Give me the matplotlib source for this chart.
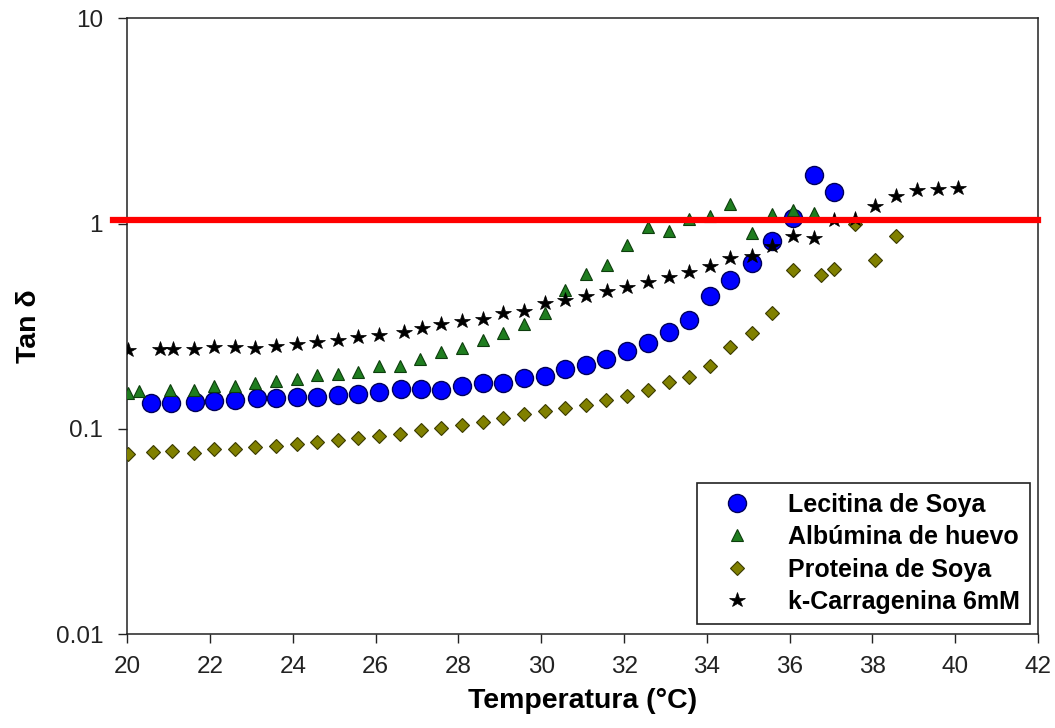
import matplotlib
matplotlib.use("Agg")
import matplotlib.pyplot as plt
import numpy as np

plt.rcParams['font.family'] = ['Liberation Sans', 'DejaVu Sans']

# datos
temp_lecitina = [20.56, 21.06, 21.64, 22.09, 22.6, 23.14, 23.59, 24.09, 24.58, 25.08,
                 25.58, 26.08, 26.6, 27.1, 27.58, 28.08, 28.58, 29.08, 29.58, 30.08,
                 30.57, 31.07, 31.57, 32.06, 32.58, 33.08, 33.57, 34.07, 34.57, 35.08,
                 35.57, 36.07, 36.6, 37.08]
tan_lecitina = [0.134, 0.134, 0.136, 0.137, 0.138, 0.142, 0.141, 0.143, 0.143, 0.147,
                0.148, 0.152, 0.156, 0.156, 0.155, 0.161, 0.167, 0.168, 0.177, 0.181,
                0.196, 0.205, 0.219, 0.240, 0.262, 0.298, 0.340, 0.446, 0.531, 0.640,
                0.820, 1.06, 1.73, 1.43]

temp_albumina = [20.01, 20.28, 21.03, 21.6, 22.09, 22.59, 23.09, 23.59, 24.09, 24.58,
                 25.08, 25.58, 26.08, 26.58, 27.08, 27.58, 28.08, 28.58, 29.08, 29.58,
                 30.08, 30.57, 31.08, 31.58, 32.08, 32.58, 33.08, 33.57, 34.07, 34.57,
                 35.08, 35.58, 36.08, 36.58]
tan_albumina = [0.150, 0.153, 0.154, 0.154, 0.161, 0.161, 0.167, 0.171, 0.175, 0.183,
                0.186, 0.190, 0.203, 0.203, 0.219, 0.236, 0.247, 0.272, 0.293, 0.324,
                0.369, 0.475, 0.568, 0.631, 0.787, 0.959, 0.924, 1.05, 1.09, 1.25,
                0.901, 1.12, 1.17, 1.13]

temp_proteina = [20.01, 20.62, 21.08, 21.6, 22.09, 22.59, 23.09, 23.59, 24.09, 24.58,
                 25.08, 25.58, 26.08, 26.58, 27.09, 27.58, 28.08, 28.58, 29.07, 29.58,
                 30.08, 30.57, 31.07, 31.57, 32.06, 32.58, 33.08, 33.57, 34.07, 34.57,
                 35.08, 35.57, 36.08, 36.76, 37.08, 37.58, 38.07, 38.57]
tan_proteina = [0.0759, 0.0775, 0.0781, 0.0766, 0.0796, 0.0796, 0.0817, 0.0826, 0.0848, 0.0864,
                0.0881, 0.0908, 0.0925, 0.0949, 0.0986, 0.1015, 0.1046, 0.1086, 0.1136, 0.118,
                0.1225, 0.127, 0.1305, 0.138, 0.145, 0.154, 0.170, 0.179, 0.203, 0.252,
                0.292, 0.369, 0.594, 0.564, 0.601, 1.00, 0.665, 0.874]

temp_carragenina = [20.01, 20.78, 21.1, 21.6, 22.09, 22.6, 23.09, 23.59, 24.09, 24.59,
                    25.09, 25.58, 26.08, 26.68, 27.11, 27.58, 28.08, 28.58, 29.08, 29.58,
                    30.08, 30.57, 31.07, 31.58, 32.08, 32.58, 33.08, 33.57, 34.07, 34.57,
                    35.08, 35.57, 36.08, 36.58, 37.08, 37.58, 38.07, 38.57, 39.08, 39.58,
                    40.07]
tan_carragenina = [0.243, 0.245, 0.245, 0.245, 0.252, 0.252, 0.249, 0.254, 0.259, 0.264,
                   0.272, 0.279, 0.287, 0.297, 0.309, 0.324, 0.334, 0.345, 0.369, 0.376,
                   0.409, 0.425, 0.442, 0.471, 0.493, 0.517, 0.551, 0.583, 0.619, 0.677,
                   0.698, 0.775, 0.871, 0.852, 1.04, 1.05, 1.22, 1.37, 1.45, 1.47,
                   1.49]

linea_ref = 1.04            # linea roja
linea_x = [19.65, 42]

y_ticks = [0.01, 0.1, 1, 10]
y_labels = ['0.01', '0.1', '1', '10']

fig = plt.figure(figsize=(10.55, 7.28), dpi=100)
ax = fig.add_axes([0.1207, 0.1287, 0.8632, 0.8462])

ax.plot(temp_lecitina, tan_lecitina, 'o', ms=13, mfc='#0000ff', mec='#00005a', mew=1.0,
        label='Lecitina de Soya', zorder=3)
ax.plot(temp_albumina, tan_albumina, '^', ms=9, mfc='#1f7d1f', mec='#0d3d0d', mew=0.8,
        label='Albúmina de huevo', zorder=4)
ax.plot(temp_proteina, tan_proteina, 'D', ms=7.5, mfc='#808000', mec='#3a3a00', mew=0.8,
        label='Proteina de Soya', zorder=4)
ax.plot(temp_carragenina, tan_carragenina, '*', ms=11.5, mfc='black', mec='black', mew=0.5,
        label='k-Carragenina 6mM', zorder=5)

# linea de referencia tan d = 1
ax.plot(linea_x, [linea_ref, linea_ref], color='#ff0000', lw=4.5, clip_on=False, zorder=6)

ax.set_yscale('log')
ax.set_xlim(20, 42)
ax.set_ylim(0.01, 10)
ax.set_xticks(np.arange(20, 43, 2))
ax.set_yticks(y_ticks)
ax.set_yticklabels(y_labels)
ax.yaxis.set_minor_locator(matplotlib.ticker.NullLocator())

ax.tick_params(axis='both', direction='out', length=6.5, width=1.0, colors='#222222',
               labelsize=17.5)
ax.tick_params(axis='x', pad=9)
ax.tick_params(axis='y', pad=11)
for s in ax.spines.values():
    s.set_linewidth(1.1)
    s.set_color('#222222')

ax.set_xlabel('Temperatura (°C)', fontsize=20.5, fontweight='bold', labelpad=7)
ax.set_ylabel('Tan δ', fontsize=20.5, fontweight='bold', labelpad=10)

leg = ax.legend(loc='lower right', bbox_to_anchor=(0.9912, 0.0167), borderaxespad=0,
                prop={'weight': 'bold', 'size': 18}, frameon=True, fancybox=False,
                edgecolor='#222222', framealpha=1, labelspacing=0.34, handletextpad=0.85,
                borderpad=0.4, handlelength=2.4)
leg.get_frame().set_linewidth(1.2)

fig.savefig('out.png', dpi=100)
